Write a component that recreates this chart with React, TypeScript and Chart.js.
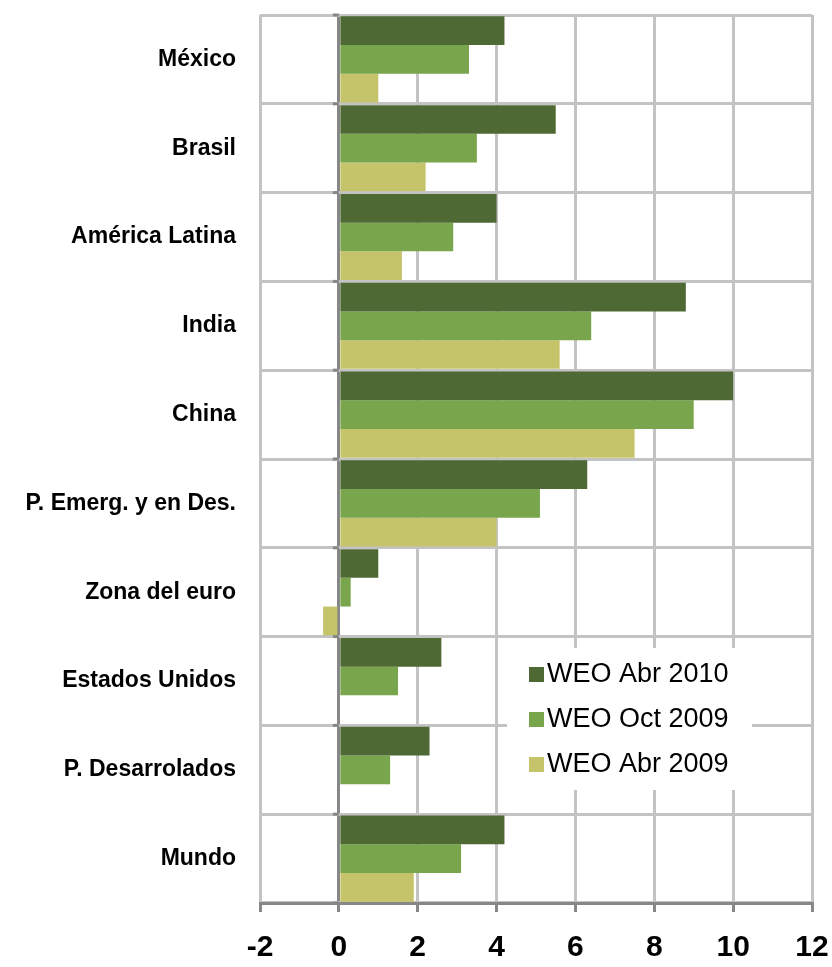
import React, { useEffect, useRef } from "react";
import { Chart, registerables } from "chart.js";

Chart.register(...registerables);

const categories = [
  "México",
  "Brasil",
  "América Latina",
  "India",
  "China",
  "P. Emerg. y en Des.",
  "Zona del euro",
  "Estados Unidos",
  "P. Desarrolados",
  "Mundo",
];

const seriesNames = ["WEO Abr 2010", "WEO Oct 2009", "WEO Abr 2009"];
const weoAbr2010 = [4.2, 5.5, 4.0, 8.8, 10.0, 6.3, 1.0, 2.6, 2.3, 4.2];
const weoOct2009 = [3.3, 3.5, 2.9, 6.4, 9.0, 5.1, 0.3, 1.5, 1.3, 3.1];
const weoAbr2009 = [1.0, 2.2, 1.6, 5.6, 7.5, 4.0, -0.4, 0, 0, 1.9];
const seriesColors = ["#4e6933", "#79a54c", "#c6c46b"];

const xMin = -2;
const xMax = 12;
const xStep = 2;

const FONT = "'Liberation Sans', Arial, sans-serif";
const GRID = "#c3c3c3";
const AXIS = "#878787";

const legendPlugin = {
  id: "insideLegend",
  afterDraw(chart: any) {
    const { ctx, chartArea } = chart;
    const x0 = chartArea.left + 247;
    const y0 = chartArea.top + 633;
    ctx.save();
    ctx.fillStyle = "#ffffff";
    ctx.fillRect(x0, y0, 245, 142);
    ctx.font = `27px ${FONT}`;
    ctx.textBaseline = "middle";
    ctx.textAlign = "left";
    chart.data.datasets.forEach((ds: any, i: number) => {
      const cy = y0 + 26 + i * 45;
      ctx.fillStyle = ds.backgroundColor;
      ctx.fillRect(x0 + 22, cy - 7, 15, 15);
      ctx.fillStyle = "#000000";
      ctx.fillText(ds.label, x0 + 40, cy + 1);
    });
    ctx.restore();
  },
};

const zeroTicksPlugin = {
  id: "zeroTicks",
  afterDatasetsDraw(chart: any) {
    const { ctx } = chart;
    const xs = chart.scales.x;
    const ys = chart.scales.y;
    const x0 = xs.getPixelForValue(0);
    const n = categories.length;
    const band = (ys.bottom - ys.top) / n;
    ctx.save();
    ctx.strokeStyle = AXIS;
    ctx.lineWidth = 3;
    for (let i = 0; i <= n; i++) {
      const y = ys.top + i * band;
      ctx.beginPath();
      ctx.moveTo(x0 - 6, y);
      ctx.lineTo(x0, y);
      ctx.stroke();
    }
    ctx.restore();
  },
};

export default function App() {
  const ref = useRef<HTMLCanvasElement | null>(null);

  useEffect(() => {
    if (!ref.current) return;
    const seriesData = [weoAbr2010, weoOct2009, weoAbr2009];
    const chart = new Chart(ref.current, {
      type: "bar",
      data: {
        labels: categories,
        datasets: seriesNames.map((name, i) => ({
          label: name,
          data: seriesData[i],
          backgroundColor: seriesColors[i],
          borderWidth: 0,
          categoryPercentage: 0.97,
          barPercentage: 1.0,
        })),
      },
      options: {
        indexAxis: "y",
        responsive: false,
        animation: false,
        layout: { padding: { top: 15, right: 20, left: 0, bottom: 0 } },
        plugins: {
          legend: { display: false },
          tooltip: { enabled: false },
        },
        scales: {
          x: {
            type: "linear",
            min: xMin,
            max: xMax,
            ticks: {
              stepSize: xStep,
              color: "#000000",
              font: { family: FONT, size: 30, weight: "bold" },
              padding: 18,
            },
            grid: {
              color: (c: any) => (c.tick && c.tick.value === 0 ? AXIS : GRID),
              lineWidth: 3,
              drawTicks: true,
              tickLength: 9,
              tickColor: AXIS,
            },
            border: { display: true, color: AXIS, width: 3 },
            afterFit(scale: any) {
              scale.height = 64;
              scale.paddingLeft = 0;
              scale.paddingRight = 0;
            },
          },
          y: {
            type: "category",
            ticks: {
              color: "#000000",
              font: { family: FONT, size: 23, weight: "bold" },
              padding: 24,
            },
            grid: {
              color: GRID,
              lineWidth: 3,
              drawTicks: false,
              offset: true,
            },
            border: { display: false },
            afterFit(scale: any) {
              scale.width = 260;
              scale.paddingTop = 0;
              scale.paddingBottom = 0;
            },
          },
        },
      },
      plugins: [zeroTicksPlugin, legendPlugin],
    });
    return () => chart.destroy();
  }, []);

  return (
    <canvas
      ref={ref}
      width={832}
      height={967}
      style={{ position: "absolute", left: 0, top: 0, display: "block" }}
    />
  );
}
